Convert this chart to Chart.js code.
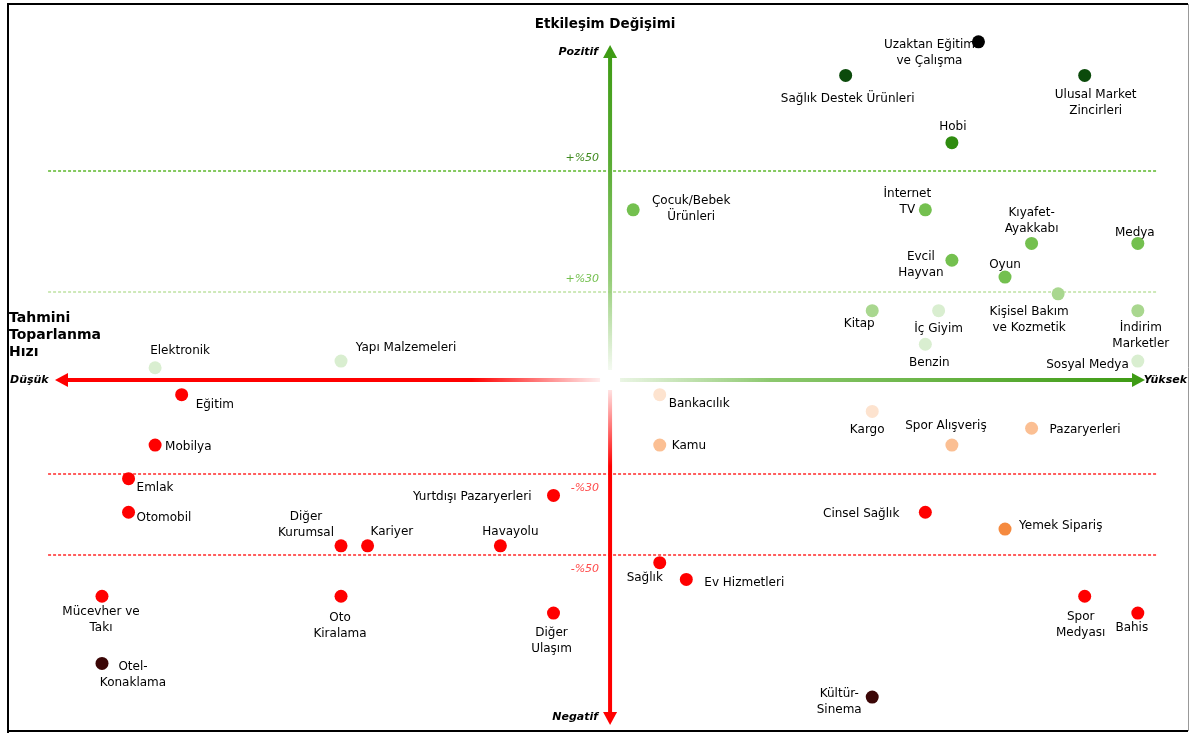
<!DOCTYPE html>
<html>
<head>
<meta charset="utf-8">
<script src="https://cdn.jsdelivr.net/npm/chart.js@4"></script>
<style>
  html, body { margin: 0; background: #fff; }
  #wrap { width: 1192px; height: 733px; position: relative; }
</style>
</head>
<body>
<div id="wrap"><canvas id="quadChart"></canvas></div>
<script>
// sectors, recovery speed (x) and engagement change (y)
const sectors = [
  'Uzaktan Eğitim\nve Çalışma', 'Sağlık Destek Ürünleri', 'Ulusal Market\nZincirleri', 'Hobi',
  'Çocuk/Bebek\nÜrünleri', 'İnternet\nTV', 'Kıyafet-\nAyakkabı', 'Medya',
  'Evcil\nHayvan', 'Oyun', 'Kişisel Bakım\nve Kozmetik', 'Kitap',
  'İç Giyim', 'İndirim\nMarketler', 'Benzin', 'Sosyal Medya',
  'Elektronik', 'Yapı Malzemeleri', 'Bankacılık', 'Kamu',
  'Kargo', 'Spor Alışveriş', 'Pazaryerleri', 'Eğitim',
  'Mobilya', 'Emlak', 'Otomobil', 'Yurtdışı Pazaryerleri',
  'Diğer\nKurumsal', 'Kariyer', 'Havayolu', 'Cinsel Sağlık',
  'Yemek Sipariş', 'Sağlık', 'Ev Hizmetleri', 'Mücevher ve\nTakı',
  'Oto\nKiralama', 'Diğer\nUlaşım', 'Spor\nMedyası', 'Bahis',
  'Otel-\nKonaklama', 'Kültür-\nSinema'
];
const recovery = [
  14, 9, 18, 13,
  1, 12, 16, 20,
  13, 15, 17, 10,
  12.5, 20, 12, 20,
  -17, -10, 2, 2,
  10, 13, 16, -16,
  -17, -18, -18, -2,
  -10, -9, -4, 12,
  15, 2, 3, -19,
  -10, -2, 18, 20,
  -19, 10
];
const engagement = [
  20, 18, 18, 14,
  10, 10, 8, 8,
  7, 6, 5, 4,
  4, 4, 2, 1,
  0.6, 1, -1, -4,
  -2, -4, -3, -1,
  -4, -6, -8, -7,
  -10, -10, -10, -8,
  -9, -11, -12, -13,
  -13, -14, -13, -14,
  -17, -19
];
const thresholds = [12.31, 5.11, -5.73, -10.55];
const thresholdLabels = ['+%50', '+%30', '-%30', '-%50'];

// styles
const C = {
  black: '#000000', dark: '#0b4a0b', green: '#2f8c10', mid: '#74c04f', light: '#a9d78f',
  pale: '#d9eed0', palePeach: '#fde3cf', peach: '#fbbf93', orange: '#f58a3f',
  red: '#ff0000', maroon: '#3b0606'
};
const pointColors = [
  C.black, C.dark, C.dark, C.green,
  C.mid, C.mid, C.mid, C.mid,
  C.mid, C.mid, C.light, C.light,
  C.pale, C.light, C.pale, C.pale,
  C.pale, C.pale, C.palePeach, C.peach,
  C.palePeach, C.peach, C.peach, C.red,
  C.red, C.red, C.red, C.red,
  C.red, C.red, C.red, C.red,
  C.orange, C.red, C.red, C.red,
  C.red, C.red, C.red, C.red,
  C.maroon, C.maroon
];
// label offsets from the dot: [dx, dy, align]
const labelPlace = [
  [-49, 3, 'center'], [2, 23, 'center'], [11, 19, 'center'], [1, -16, 'center'],
  [58, -9, 'center'], [-18, -16, 'center'], [0, -31, 'center'], [-3, -11, 'center'],
  [-31, -3, 'center'], [0, -12, 'center'], [-29, 18, 'center'], [-13, 13, 'center'],
  [0, 18, 'center'], [3, 17, 'center'], [4, 19, 'center'], [-9, 4, 'right'],
  [25, -17, 'center'], [65, -13, 'center'], [9, 9, 'left'], [12, 1, 'left'],
  [-5, 18, 'center'], [-6, -19, 'center'], [18, 2, 'left'], [14, 10, 'left'],
  [10, 2, 'left'], [8, 9, 'left'], [8, 6, 'left'], [-22, 1, 'right'],
  [-35, -29, 'center'], [3, -14, 'left'], [10, -14, 'center'], [-26, 2, 'right'],
  [14, -3, 'left'], [-15, 15, 'center'], [18, 3, 'left'], [-1, 16, 'center'],
  [-1, 22, 'center'], [-2, 20, 'center'], [-4, 21, 'center'], [-6, 15, 'center'],
  [31, 3, 'center'], [-33, -3, 'center']
];

const FONT = '"DejaVu Sans", Verdana, sans-serif';
const crossX = 0.13, crossY = -0.13;

function arrow(ctx, x0, y0, x1, y1, grad) {
  const ang = Math.atan2(y1 - y0, x1 - x0);
  const head = 13, half = 7;
  const bx = x1 - Math.cos(ang) * head, by = y1 - Math.sin(ang) * head;
  ctx.save();
  ctx.strokeStyle = grad;
  ctx.fillStyle = grad;
  ctx.lineWidth = 4;
  ctx.beginPath();
  ctx.moveTo(x0, y0);
  ctx.lineTo(bx, by);
  ctx.stroke();
  ctx.beginPath();
  ctx.moveTo(x1, y1);
  ctx.lineTo(bx - Math.sin(ang) * half, by + Math.cos(ang) * half);
  ctx.lineTo(bx + Math.sin(ang) * half, by - Math.cos(ang) * half);
  ctx.closePath();
  ctx.fill();
  ctx.restore();
}

const quadrant = {
  id: 'quadrant',
  beforeDatasetsDraw(chart) {
    const { ctx, scales: { x, y } } = chart;
    const cx = x.getPixelForValue(crossX), cy = y.getPixelForValue(crossY);
    const left = x.getPixelForValue(-20.77), right = x.getPixelForValue(20.27);
    const top = y.getPixelForValue(19.81), bottom = y.getPixelForValue(-20.67);

    // threshold lines
    const lineCols = ['#5cb82c', '#bfe2a2', '#ff2a2a', '#ff2a2a'];
    const textCols = ['#3f8a1e', '#74c04f', '#ff4a4a', '#ff4a4a'];
    thresholds.forEach((t, i) => {
      const py = Math.round(y.getPixelForValue(t));
      ctx.save();
      ctx.strokeStyle = lineCols[i];
      ctx.lineWidth = 1.4;
      ctx.setLineDash([3, 2]);
      ctx.beginPath();
      ctx.moveTo(x.getPixelForValue(-21.03), py);
      ctx.lineTo(x.getPixelForValue(20.72), py);
      ctx.stroke();
      ctx.restore();
      ctx.save();
      ctx.fillStyle = textCols[i];
      ctx.font = 'italic 11px ' + FONT;
      ctx.textBaseline = 'middle';
      ctx.textAlign = 'right';
      ctx.fillText(thresholdLabels[i], cx - 11, py + (i < 2 ? -13 : 14));
      ctx.restore();
    });

    // axes arrows
    let g = ctx.createLinearGradient(cx, 0, left, 0);
    g.addColorStop(0, 'rgba(255,0,0,0)');
    g.addColorStop(0.25, 'rgba(255,0,0,1)');
    g.addColorStop(1, 'rgba(255,0,0,1)');
    arrow(ctx, cx - 10, cy, left, cy, g);
    g = ctx.createLinearGradient(cx, 0, right, 0);
    g.addColorStop(0, 'rgba(150,205,120,0.15)');
    g.addColorStop(0.3, 'rgba(140,200,110,1)');
    g.addColorStop(1, '#3c9a12');
    arrow(ctx, cx + 10, cy, right, cy, g);
    g = ctx.createLinearGradient(0, cy, 0, top);
    g.addColorStop(0, 'rgba(150,205,120,0)');
    g.addColorStop(0.3, 'rgba(150,205,120,1)');
    g.addColorStop(0.65, '#5aac34');
    g.addColorStop(1, '#3c9a12');
    arrow(ctx, cx, cy - 10, cx, top, g);
    g = ctx.createLinearGradient(0, cy, 0, bottom);
    g.addColorStop(0, 'rgba(255,0,0,0)');
    g.addColorStop(0.25, 'rgba(255,0,0,1)');
    g.addColorStop(1, 'rgba(255,0,0,1)');
    arrow(ctx, cx, cy + 10, cx, bottom, g);

    // axis texts
    ctx.save();
    ctx.fillStyle = '#000';
    ctx.textBaseline = 'middle';
    ctx.font = 'bold italic 11px ' + FONT;
    ctx.textAlign = 'left';
    ctx.fillText('Düşük', 10, cy);
    ctx.textAlign = 'right';
    ctx.fillText('Yüksek', 1187, cy);
    ctx.fillText('Pozitif', cx - 12, top + 7);
    ctx.fillText('Negatif', cx - 12, bottom - 8);
    ctx.font = 'bold 13.5px ' + FONT;
    ctx.textAlign = 'center';
    ctx.fillText('Etkileşim Değişimi', cx - 5, 24);
    ctx.textAlign = 'left';
    ctx.font = 'bold 14px ' + FONT;
    ['Tahmini', 'Toparlanma', 'Hızı'].forEach((s, i) => ctx.fillText(s, 9, 318 + i * 17));
    ctx.restore();

    // point labels
    const meta = chart.getDatasetMeta(0);
    ctx.save();
    ctx.fillStyle = '#000';
    ctx.font = '12px ' + FONT;
    ctx.textBaseline = 'middle';
    meta.data.forEach((pt, i) => {
      const [dx, dy, al] = labelPlace[i];
      ctx.textAlign = al;
      sectors[i].split('\n').forEach((line, k) => {
        ctx.fillText(line, pt.x + dx, pt.y + dy + k * 16);
      });
    });
    ctx.restore();
  },
  afterDraw(chart) {
    const { ctx } = chart;
    ctx.save();
    ctx.strokeStyle = '#000';
    ctx.lineWidth = 2;
    ctx.beginPath();
    ctx.moveTo(8, 733);
    ctx.lineTo(8, 4);
    ctx.lineTo(1188, 4);
    ctx.stroke();
    ctx.beginPath();
    ctx.moveTo(8, 731);
    ctx.lineTo(1188, 731);
    ctx.stroke();
    ctx.strokeStyle = '#999';
    ctx.lineWidth = 1;
    ctx.beginPath();
    ctx.moveTo(1188.5, 4);
    ctx.lineTo(1188.5, 731);
    ctx.stroke();
    ctx.restore();
  }
};

new Chart(document.getElementById('quadChart'), {
  type: 'scatter',
  data: {
    datasets: [{
      label: 'Sektörler',
      data: recovery.map((v, i) => ({ x: v, y: engagement[i] })),
      pointBackgroundColor: pointColors,
      pointBorderWidth: 0,
      pointRadius: 6.5,
      pointHoverRadius: 6.5
    }]
  },
  options: {
    responsive: true,
    maintainAspectRatio: false,
    animation: false,
    layout: { padding: 0, autoPadding: false },
    plugins: { legend: { display: false }, tooltip: { enabled: false } },
    scales: {
      x: { type: 'linear', display: false, min: -22.84, max: 22.04 },
      y: { type: 'linear', display: false, min: -21.14, max: 22.49 }
    }
  },
  plugins: [quadrant]
});
</script>
</body>
</html>
